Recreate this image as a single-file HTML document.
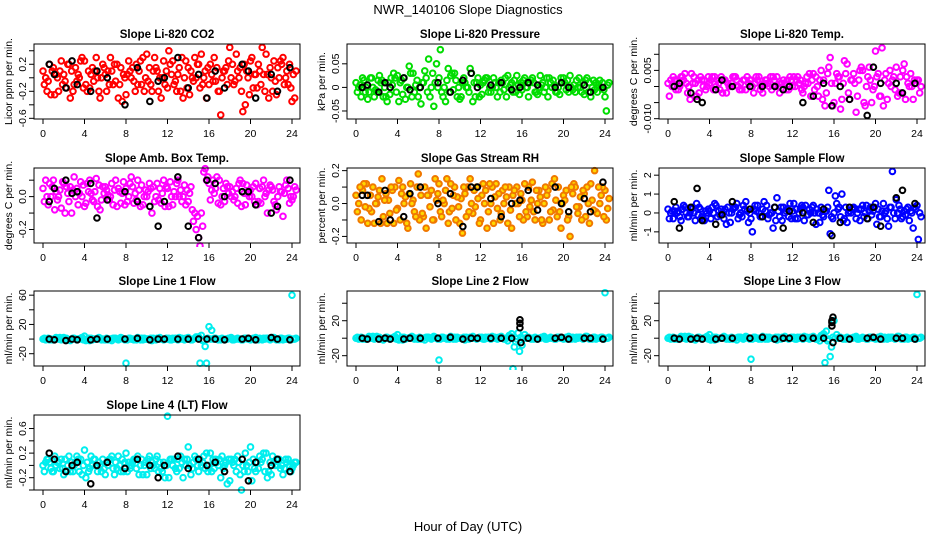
<!DOCTYPE html>
<html><head><meta charset="utf-8"><style>
body{margin:0;background:#fff}
svg{display:block;font-family:"Liberation Sans",sans-serif}
</style></head><body>
<svg id="c" width="936" height="540" xmlns="http://www.w3.org/2000/svg">
<text x="468" y="14" text-anchor="middle" font-size="13">NWR_140106  Slope Diagnostics</text>
<text x="468" y="531" text-anchor="middle" font-size="13">Hour of Day (UTC)</text>
</svg>
<script>
const hoursA=[0,0.5,1,1.5,2,2.5,3,3.5,4,4.5,5,5.5,6,6.5,7,7.5,8,8.5,9,9.5,10,10.5,11,11.5,12,12.5,13,13.5,14,14.5,15,15.5,16,16.5,17,17.5,18,18.5,19,19.5,20,20.5,21,21.5,22,22.5,23,23.5,24];
const offsetB=0.13, offsetC=0.26, offsetD=0.39;
const blackHours=[0.6,1.1,2.2,2.8,3.3,5.2,4.6,6.2,7.9,9.1,10.3,11.1,13.0,11.7,14.0,15.0,15.8,16.6,17.5,19.2,19.8,20.5,22.0,22.6,23.8];
const xTicks=[0,4,8,12,16,20,24];

const co2A=[0.1,-0.05,0.15,-0.2,0.05,0.2,-0.1,0.0,0.25,-0.15,0.1,-0.3,0.05,0.3,-0.05,0.15,-0.25,0.0,0.2,-0.1,0.35,-0.2,0.1,0.0,-0.15,0.25,0.05,-0.3,0.15,-0.05,0.2,0.0,-0.1,0.3,-0.2,0.1,0.45,-0.05,0.15,-0.4,0.25,0.05,-0.1,0.35,0.0,-0.25,0.2,0.1,-0.35];
const co2B=[-0.1,0.2,-0.25,0.1,-0.05,-0.3,0.15,0.25,-0.1,0.05,0.3,0.0,-0.2,0.1,0.2,-0.35,0.05,0.15,-0.1,0.3,-0.05,0.1,-0.2,0.25,0.4,-0.1,0.15,0.0,-0.25,0.3,-0.15,0.1,0.2,-0.05,-0.55,0.15,0.0,0.35,-0.2,0.1,0.3,-0.15,0.45,0.05,-0.2,0.15,0.3,-0.1,0.05];
const co2C=[0.0,-0.25,0.05,0.25,-0.15,0.1,-0.05,0.3,-0.2,0.15,0.0,0.2,0.1,-0.1,-0.3,0.05,0.25,-0.05,0.1,-0.2,0.15,0.3,0.0,-0.1,0.2,-0.05,-0.2,0.25,0.1,0.0,0.35,-0.3,0.05,0.15,0.0,-0.1,0.2,0.1,-0.5,0.0,-0.15,0.2,0.05,-0.3,0.25,0.0,-0.1,0.2,-0.3];
const co2D=[-0.2,0.1,0.0,-0.1,0.2,-0.2,0.05,-0.15,0.1,-0.05,-0.2,0.15,-0.1,0.2,-0.1,0.0,0.1,-0.2,0.25,0.0,-0.1,0.15,-0.3,0.1,0.05,-0.2,0.3,-0.15,0.0,0.2,-0.1,0.15,-0.05,-0.2,0.1,0.25,-0.1,0.0,0.2,-0.25,0.05,0.1,-0.2,0.15,-0.05,0.25,0.0,-0.15,0.1];
const co2K=[0.2,0.05,-0.15,0.25,-0.1,0.1,-0.2,0.0,-0.4,0.15,-0.35,-0.05,0.3,0.0,-0.15,0.05,-0.3,0.1,-0.15,0.2,0.1,-0.3,0.05,-0.2,0.15];

const presA=[0.01,-0.02,0.0,0.02,-0.01,0.015,-0.03,0.005,0.025,-0.015,0.0,0.03,-0.02,0.01,0.06,-0.04,0.02,0.0,-0.01,0.03,-0.025,0.01,0.04,-0.02,0.005,0.02,-0.01,0.0,0.015,-0.02,0.01,0.025,-0.005,0.0,0.02,-0.015,0.01,-0.02,0.015,0.0,0.02,-0.01,0.005,0.02,-0.015,0.01,-0.005,0.015,-0.02];
const presB=[-0.01,0.02,-0.025,0.0,0.015,-0.02,0.01,0.03,-0.03,0.02,0.045,-0.01,0.0,0.035,-0.02,0.01,0.08,-0.03,0.025,0.015,-0.02,0.0,0.03,0.01,-0.015,0.02,0.0,-0.02,0.01,0.025,-0.01,0.005,0.015,-0.02,0.01,0.0,-0.01,0.02,0.005,-0.015,0.01,0.025,-0.01,0.0,0.015,-0.02,0.01,0.0,-0.05];
const presC=[0.0,0.015,-0.01,-0.02,0.025,0.0,-0.015,0.02,0.01,-0.025,0.03,0.005,-0.035,0.02,0.0,0.05,-0.01,0.015,0.03,-0.02,0.01,0.0,-0.03,0.02,0.01,-0.01,0.02,0.01,-0.005,0.0,0.015,-0.015,0.02,0.01,-0.01,0.025,0.0,0.01,-0.01,0.02,-0.005,0.0,0.015,-0.01,0.02,0.0,-0.01,0.01,0.005];
const presD=[0.005,-0.01,0.02,-0.005,0.01,-0.02,0.02,-0.01,0.015,0.0,-0.02,0.015,0.01,-0.01,0.03,0.0,-0.02,0.04,-0.005,0.0,0.02,-0.01,0.01,-0.02,0.015,0.0,0.01,-0.01,0.02,0.005,-0.01,0.01,0.0,0.015,-0.01,0.005,0.02,0.0,-0.01,0.01,0.015,-0.005,0.0,0.01,-0.01,0.015,0.005,-0.005,0.01];
const presK=[0.0,0.005,-0.01,0.01,0.0,-0.005,0.02,0.0,0.01,-0.01,0.015,0.03,0.005,0.0,0.01,-0.005,0.0,0.01,0.005,0.0,0.01,0.0,0.005,-0.01,0.0];

const tempA=[0.001,0.003,-0.001,0.002,0.0,0.003,-0.002,0.002,0.001,0.003,-0.001,0.002,0.0,0.003,0.001,-0.001,0.002,0.003,0.0,0.002,-0.001,0.003,0.001,0.002,0.0,0.003,-0.002,0.001,0.004,-0.003,0.002,0.006,-0.005,0.003,0.008,-0.004,0.001,0.005,-0.006,0.002,0.011,-0.003,0.004,0.0,0.006,-0.002,0.003,0.0,0.002];
const tempB=[-0.003,0.002,0.0,0.004,-0.004,0.001,0.003,-0.001,0.002,0.0,0.003,-0.002,0.001,0.002,-0.001,0.003,0.0,0.002,-0.002,0.001,0.003,0.0,0.002,-0.001,0.003,0.001,0.0,0.004,-0.001,0.002,-0.006,0.009,0.001,-0.007,0.004,0.002,-0.008,0.006,0.0,-0.005,0.003,0.012,-0.004,0.002,-0.003,0.005,0.001,-0.004,0.002];
const tempC=[0.002,-0.001,0.003,0.001,0.004,-0.003,0.002,0.0,0.003,0.002,-0.002,0.001,0.003,0.0,0.002,0.001,-0.002,0.003,0.001,0.0,0.002,-0.002,0.001,0.003,0.0,0.002,0.001,-0.003,0.003,0.005,-0.002,0.001,0.004,-0.004,0.007,0.002,-0.003,0.005,0.003,-0.001,0.004,-0.006,0.001,0.003,-0.002,0.007,0.0,0.002,-0.002];
const tempD=[0.0,0.002,0.003,-0.002,0.001,0.002,0.0,0.003,-0.001,0.001,0.002,0.0,0.003,-0.001,0.002,0.002,0.001,-0.001,0.002,0.003,0.0,0.001,-0.001,0.002,0.002,-0.001,0.003,0.002,0.0,-0.004,0.004,-0.006,0.003,0.001,-0.002,0.004,0.002,-0.005,0.006,0.0,-0.003,0.002,0.005,-0.001,0.003,-0.004,0.004,0.001,0.0];
const tempK=[0.0,0.001,-0.002,-0.004,-0.005,0.002,-0.001,0.0,0.0,0.0,0.0,-0.001,-0.005,0.0,-0.003,0.001,-0.006,0.0,-0.004,-0.009,0.006,0.001,0.001,-0.002,0.001];

const ambA=[0.05,-0.05,0.1,0.0,0.08,-0.03,0.12,0.02,-0.06,0.1,0.03,-0.08,0.06,0.0,0.1,-0.04,0.05,0.12,-0.02,0.07,0.0,-0.1,0.08,0.02,0.05,-0.05,0.1,0.0,-0.03,-0.15,-0.25,0.15,0.08,0.02,0.1,-0.03,0.06,0.0,0.1,-0.05,0.04,0.08,-0.04,0.02,0.06,-0.08,0.03,0.1,-0.02];
const ambB=[-0.03,0.08,-0.08,0.04,-0.1,0.06,0.0,0.09,-0.04,0.02,0.11,-0.02,0.04,0.08,-0.06,0.02,-0.03,0.06,0.1,-0.05,0.03,0.06,-0.02,0.1,-0.06,0.03,0.0,0.07,0.02,-0.1,-0.3,0.17,-0.02,0.05,-0.05,0.08,0.0,0.05,-0.06,0.07,0.0,-0.05,0.06,-0.1,0.04,0.0,-0.12,0.05,0.0];
const ambC=[0.1,0.0,0.03,-0.07,0.06,-0.1,0.05,0.0,0.08,-0.02,-0.06,0.06,0.01,-0.05,0.05,0.09,0.0,-0.04,0.04,0.0,0.08,-0.03,0.05,-0.06,0.09,0.0,0.04,-0.05,0.06,-0.2,-0.1,0.1,0.04,0.12,0.0,0.06,0.03,-0.04,0.08,0.02,0.06,-0.03,0.1,0.04,-0.03,0.06,0.02,-0.04,0.06];
const ambD=[0.0,0.06,-0.02,0.09,0.02,0.04,-0.05,0.07,0.03,-0.03,0.07,0.02,-0.02,0.04,0.03,-0.05,0.08,0.02,-0.06,0.04,0.05,0.0,-0.04,0.06,0.0,0.08,-0.03,0.04,-0.08,-0.12,-0.18,0.12,0.1,-0.04,0.05,0.02,-0.02,0.08,0.02,0.0,-0.03,0.05,0.0,0.07,-0.05,0.03,0.07,0.0,0.04];
const ambK=[-0.03,0.05,0.1,0.02,0.03,-0.13,0.08,-0.02,0.03,-0.03,-0.06,-0.18,0.12,-0.03,-0.18,-0.25,0.1,0.08,0.0,0.03,0.03,-0.05,-0.1,-0.06,0.1];

const rhA=[0.05,-0.1,0.12,-0.05,0.0,0.15,-0.12,0.08,-0.03,0.1,-0.15,0.02,0.18,-0.08,0.05,-0.1,0.12,0.0,-0.05,0.1,-0.12,0.06,0.15,-0.02,-0.1,0.08,0.0,0.12,-0.06,0.04,-0.15,0.1,0.02,-0.08,0.13,0.0,-0.12,0.08,-0.04,0.1,0.05,-0.08,0.12,-0.02,0.06,-0.12,0.2,0.0,0.08];
const rhB=[-0.05,0.08,-0.12,0.1,0.04,-0.08,0.02,-0.12,0.14,0.0,0.06,-0.05,-0.1,0.1,-0.02,0.15,-0.05,0.08,0.12,-0.1,0.03,-0.08,0.0,0.1,0.05,-0.15,0.1,-0.03,0.08,-0.12,0.05,0.0,-0.1,0.1,-0.05,0.08,0.0,-0.1,0.15,-0.05,0.02,-0.2,0.1,0.04,-0.08,0.12,-0.05,0.05,-0.1];
const rhC=[0.0,0.12,-0.03,-0.12,0.08,0.02,-0.06,0.1,-0.1,0.04,0.12,-0.08,0.05,-0.15,0.08,0.02,-0.08,0.15,-0.03,0.04,-0.18,0.1,-0.06,0.03,0.12,-0.05,-0.12,0.06,0.0,0.1,0.08,-0.08,0.12,-0.02,-0.1,0.04,0.1,-0.05,0.02,-0.15,0.08,0.1,-0.02,-0.1,0.1,0.02,-0.06,0.1,-0.03];
const rhD=[0.1,-0.02,0.05,0.0,-0.12,0.06,0.1,-0.04,0.06,-0.12,0.0,0.1,-0.06,0.05,-0.1,0.06,0.02,-0.12,0.05,-0.02,0.1,-0.05,0.08,-0.12,0.0,0.12,0.04,-0.1,0.1,-0.04,0.0,0.06,-0.05,0.02,0.08,-0.1,0.05,0.12,-0.08,0.0,-0.1,0.06,-0.06,0.08,0.0,-0.04,0.1,-0.08,0.03];
const rhK=[0.05,0.05,-0.11,0.08,-0.1,0.06,-0.08,0.1,0.0,0.06,-0.14,0.1,0.03,0.1,-0.08,0.0,0.02,0.08,-0.04,0.1,0.0,-0.05,0.03,-0.05,0.13];

const sfA=[0.2,-0.3,0.1,0.4,-0.2,0.0,0.3,-0.4,0.1,0.5,-0.1,0.2,-0.5,0.3,0.0,0.6,-0.3,0.1,-0.2,0.4,0.0,0.8,-0.4,0.2,0.1,-0.3,0.3,-0.1,0.4,0.0,-0.2,1.2,0.0,0.3,-0.3,0.1,0.2,-0.4,0.0,0.3,0.5,-0.2,0.1,0.3,0.7,-0.3,0.2,0.0,0.4];
const sfB=[-0.3,0.1,-0.2,0.3,0.0,-0.4,0.2,0.1,-0.3,0.4,0.2,-0.6,0.0,0.5,-0.2,0.1,-1.0,0.4,0.2,-0.3,-0.8,0.1,0.3,-0.2,0.5,0.0,-0.4,0.2,0.0,-0.5,0.1,-1.1,0.9,-0.2,0.3,0.0,-0.3,0.2,0.4,-0.1,-0.6,0.1,-0.3,2.2,0.0,-0.2,0.3,-0.8,-1.4];
const sfC=[0.0,0.3,-0.4,0.0,0.2,0.5,-0.2,0.0,0.3,-0.2,0.0,0.3,0.2,-0.3,0.4,-0.5,0.2,0.0,0.6,-0.1,0.3,-0.2,0.0,0.5,-0.3,0.2,0.4,0.0,-0.6,0.3,0.1,-0.2,0.5,1.0,-0.5,0.2,0.0,0.4,-0.3,0.1,0.2,0.5,-0.7,0.0,0.4,0.1,-0.4,0.3,0.0];
const sfD=[0.1,0.0,0.2,-0.2,0.3,-0.1,-0.3,0.2,0.0,0.1,-0.3,0.0,0.3,-0.1,0.2,0.0,0.4,-0.2,0.1,0.0,-0.4,0.3,0.1,-0.3,0.2,0.4,-0.1,0.3,0.2,-0.1,0.3,-0.3,0.2,-0.4,0.0,0.3,0.2,-0.2,0.1,0.3,-0.2,0.0,0.3,-0.3,0.2,-0.1,0.1,0.2,-0.2];
const sfK=[0.6,-0.8,0.3,1.3,-0.4,-0.1,-0.6,0.6,0.2,-0.2,0.3,-0.8,0.0,0.1,-0.5,0.2,-1.2,-0.5,0.3,-0.3,0.3,-0.7,0.8,1.2,0.5];

const l1A=[0,1,-1,0,2,-1,1,0,4,-2,0,1,-1,0,1,2,-33,0,-1,1,0,-2,1,0,0,1,-1,0,2,0,3,-1,17,1,0,-1,1,0,0,1,-1,2,0,1,0,-1,1,0,60];
const l1B=[1,-1,0,2,0,-2,0,1,-2,1,0,-1,1,-2,0,1,-1,0,2,-1,0,1,0,-1,1,0,2,-1,0,1,-33,-10,0,1,-1,0,2,0,-1,1,0,0,-1,1,2,0,-1,1,0];
const l1C=[-1,0,2,-1,1,0,-1,2,0,-1,1,0,-1,1,-1,0,1,-1,0,1,-1,0,2,0,-1,1,0,1,-1,3,5,-33,12,0,1,0,-1,1,-1,0,1,-1,1,0,2,-1,0,1,0];
const l1D=[0,-1,1,0,-1,1,0,-1,1,0,2,-1,0,1,0,-1,1,0,-1,0,1,-1,0,1,-1,0,1,0,-1,2,-2,1,0,-1,0,1,-1,0,1,0,-1,1,0,-1,0,1,0,-1,1];
const l1K=[0,-1,-2,0,-1,0,-1,0,0,1,-1,0,0,0,0,0,0,0,-1,0,1,-1,2,0,-1];

const l2A=[0,1,-1,0,2,-1,1,0,4,-2,0,1,-1,0,1,2,-25,0,-1,1,0,-2,1,0,0,1,-1,0,2,0,5,-1,-8,1,0,-1,1,0,0,1,-1,2,0,1,0,-1,1,0,52];
const l2B=[1,-1,0,2,0,-2,0,1,-2,1,0,-1,1,-2,0,1,-1,0,2,-1,0,1,0,-1,1,0,2,-1,0,-3,-35,6,0,1,-1,0,2,0,-1,1,0,0,-1,1,2,0,-1,1,0];
const l2C=[-1,0,2,-1,1,0,-1,2,0,-1,1,0,-1,1,-1,0,1,-1,0,1,-1,0,2,0,-1,1,0,1,-1,3,-10,-15,4,0,1,0,-1,1,-1,0,1,-1,1,0,2,-1,0,1,0];
const l2D=[0,-1,1,0,-1,1,0,-1,1,0,2,-1,0,1,0,-1,1,0,-1,0,1,-1,0,1,-1,0,1,0,-1,2,-4,1,0,-1,0,1,-1,0,1,0,-1,1,0,-1,0,1,0,-1,1];
const l2K=[0,-1,-1,0,-1,0,-1,0,0,1,-1,0,0,0,0,0,12,0,-1,0,1,-1,0,0,-1];
const l2ExtraHours=[15.8,15.8,15.9];
const l2ExtraK=[17,21,-5];

const l3A=[0,1,-1,0,2,-1,1,0,4,-2,0,1,-1,0,1,2,-24,0,-1,1,0,-2,1,0,0,1,-1,0,2,0,5,-1,20,1,0,-1,1,0,0,1,-1,2,0,1,0,-1,1,0,50];
const l3B=[1,-1,0,2,0,-2,0,1,-2,1,0,-1,1,-2,0,1,-1,0,2,-1,0,1,0,-1,1,0,2,-1,0,-3,-28,-21,0,1,-1,0,2,0,-1,1,0,0,-1,1,2,0,-1,1,0];
const l3C=[-1,0,2,-1,1,0,-1,2,0,-1,1,0,-1,1,-1,0,1,-1,0,1,-1,0,2,0,-1,1,0,1,-1,3,8,-10,4,0,1,0,-1,1,-1,0,1,-1,1,0,2,-1,0,1,0];
const l3D=[0,-1,1,0,-1,1,0,-1,1,0,2,-1,0,1,0,-1,1,0,-1,0,1,-1,0,1,-1,0,1,0,-1,2,-3,1,0,-1,0,1,-1,0,1,0,-1,1,0,-1,0,1,0,-1,1];
const l3K=[0,-1,-1,0,-1,0,-1,0,0,1,-1,0,0,0,0,0,14,0,-1,0,1,-1,0,0,-1];
const l3ExtraHours=[15.8,15.8,15.9,15.9];
const l3ExtraK=[18,20,24,-5];

const l4A=[0.0,0.1,-0.1,0.05,-0.15,0.15,0.0,-0.1,0.25,-0.05,0.1,0.0,-0.15,0.1,0.05,-0.1,0.2,0.0,-0.05,0.1,-0.15,0.05,0.15,-0.1,0.8,0.0,0.1,-0.2,0.3,0.05,-0.1,0.15,0.0,-0.05,0.1,0.0,-0.25,0.1,-0.15,0.2,0.3,-0.1,0.05,0.2,-0.15,0.1,0.0,0.05,-0.05];
const l4B=[-0.1,0.05,0.15,-0.05,0.1,-0.1,0.05,0.1,-0.2,0.15,0.0,-0.1,0.05,0.15,-0.05,0.1,-0.1,0.05,0.15,-0.15,0.1,0.0,-0.1,0.05,-0.2,0.1,-0.05,0.1,0.0,0.15,0.1,-0.05,0.2,0.1,-0.2,0.05,0.1,-0.1,-0.4,0.0,-0.25,0.05,0.1,-0.2,0.15,0.0,-0.15,0.1,0.0];
const l4C=[0.05,-0.05,0.0,0.1,-0.1,0.05,0.15,-0.15,0.05,0.0,-0.1,0.1,0.0,-0.05,0.15,-0.1,0.05,0.1,-0.15,0.0,0.15,-0.05,0.05,-0.2,0.1,-0.05,0.15,0.0,-0.15,0.1,0.0,0.2,-0.1,0.05,0.15,-0.3,0.05,0.15,0.0,-0.1,0.1,-0.05,0.2,-0.1,0.05,0.1,-0.05,0.0,0.05];
const l4D=[0.1,-0.1,0.05,-0.05,0.0,-0.1,0.1,0.0,-0.1,0.1,0.05,-0.05,0.1,-0.15,0.0,0.05,-0.05,0.1,0.0,0.05,-0.05,0.1,-0.05,0.0,0.1,-0.1,0.05,0.1,-0.05,0.0,0.05,-0.1,0.1,0.0,-0.05,0.1,0.0,0.05,-0.1,0.05,-0.05,0.15,-0.1,0.05,0.0,-0.05,0.1,-0.1,0.05];
const l4K=[0.2,0.1,-0.1,0.0,0.05,0.0,-0.3,0.05,-0.05,0.1,0.0,-0.2,0.15,0.0,-0.05,0.1,0.0,0.05,-0.1,0.1,-0.25,0.05,0.0,0.1,-0.1];

const panels=[
 {name:'co2',title:'Slope Li-820 CO2',ylab:'Licor ppm per min.',col:0,row:0,dom:[-0.61,0.5],ticks:[-0.6,-0.4,-0.2,0,0.2,0.4],labs:[-0.6,-0.2,0.2],color:'#ff0000',fill:'none',A:co2A,B:co2B,C:co2C,D:co2D,K:co2K},
 {name:'pressure',title:'Slope Li-820 Pressure',ylab:'kPa per min.',col:1,row:0,dom:[-0.067,0.092],ticks:[-0.05,0,0.05],labs:[-0.05,0,0.05],color:'#00dd00',fill:'none',A:presA,B:presB,C:presC,D:presD,K:presK},
 {name:'licor-temp',title:'Slope Li-820 Temp.',ylab:'degrees C per min.',col:2,row:0,dom:[-0.0101,0.0132],ticks:[-0.01,-0.005,0,0.005,0.01],labs:[-0.01,0.005],color:'#ff00ff',fill:'none',A:tempA,B:tempB,C:tempC,D:tempD,K:tempK,fmt:3},
 {name:'amb-box-temp',title:'Slope Amb. Box Temp.',ylab:'degrees C per min.',col:0,row:1,dom:[-0.282,0.174],ticks:[-0.2,-0.1,0,0.1],labs:[-0.2,0],color:'#ff00ff',fill:'none',A:ambA,B:ambB,C:ambC,D:ambD,K:ambK,fmt:1},
 {name:'gas-stream-rh',title:'Slope Gas Stream RH',ylab:'percent per min.',col:1,row:1,dom:[-0.24,0.216],ticks:[-0.2,-0.1,0,0.1,0.2],labs:[-0.2,0,0.2],color:'#f07800',fill:'#ffd800',A:rhA,B:rhB,C:rhC,D:rhD,K:rhK,fmt:1},
 {name:'sample-flow',title:'Slope Sample Flow',ylab:'ml/min per min.',col:2,row:1,dom:[-1.59,2.38],ticks:[-1,0,1,2],labs:[-1,0,1,2],color:'#0000ff',fill:'none',A:sfA,B:sfB,C:sfC,D:sfD,K:sfK},
 {name:'line1-flow',title:'Slope Line 1 Flow',ylab:'ml/min per min.',col:0,row:2,dom:[-36.8,65.7],ticks:[-20,0,20,40,60],labs:[-20,20,60],color:'#00eeee',fill:'none',A:l1A,B:l1B,C:l1C,D:l1D,K:l1K},
 {name:'line2-flow',title:'Slope Line 2 Flow',ylab:'ml/min per min.',col:1,row:2,dom:[-31.8,54],ticks:[-20,0,20,40],labs:[-20,20],color:'#00eeee',fill:'none',A:l2A,B:l2B,C:l2C,D:l2D,K:l2K,EH:l2ExtraHours,EK:l2ExtraK},
 {name:'line3-flow',title:'Slope Line 3 Flow',ylab:'ml/min per min.',col:2,row:2,dom:[-31.8,54],ticks:[-20,0,20,40],labs:[-20,20],color:'#00eeee',fill:'none',A:l3A,B:l3B,C:l3C,D:l3D,K:l3K,EH:l3ExtraHours,EK:l3ExtraK},
 {name:'line4-flow',title:'Slope Line 4 (LT) Flow',ylab:'ml/min per min.',col:0,row:3,dom:[-0.4,0.82],ticks:[-0.4,-0.2,0,0.2,0.4,0.6],labs:[-0.2,0.2,0.6],color:'#00eeee',fill:'none',A:l4A,B:l4B,C:l4C,D:l4D,K:l4K,fmt:1}
];

const NS='http://www.w3.org/2000/svg';
const svg=document.getElementById('c');
const colLeft=[34,347,659], rowTop=[44,168,291,415];
const W=266,H=75;
function mk(tag,attrs,parent){const e=document.createElementNS(NS,tag);for(const k in attrs)e.setAttribute(k,attrs[k]);(parent||svg).appendChild(e);return e;}
function fmtNum(v,d){if(d===undefined){return String(v);}return v.toFixed(d);}

panels.forEach(p=>{
  const L=colLeft[p.col],T=rowTop[p.row];
  const g=mk('g',{});
  
  
  const xs=h=>L+9+h*(249/24);
  const ys=v=>T+H-(v-p.dom[0])/(p.dom[1]-p.dom[0])*H;
  const t=mk('text',{x:L+W/2,y:T-6,'text-anchor':'middle','font-size':'11.5','font-weight':'bold'},g);
  t.textContent=p.title;
  
  
  const yl=mk('text',{transform:`translate(${L-22},${T+H/2}) rotate(-90)`,'text-anchor':'middle','font-size':'10.5'},g);
  yl.textContent=p.ylab;
  
  
  const cid='clip'+p.name;
  const cp=mk('clipPath',{id:cid},g);mk('rect',{x:L-4,y:T-4,width:W+8,height:H+8},cp);
  const pts=mk('g',{'clip-path':`url(#${cid})`},g);
  
  
  const draw=(hrs,vals,off,color,fill,sw)=>{vals.forEach((v,i)=>{
    const c=mk('circle',{cx:xs(hrs[i]+off),cy:ys(v),r:2.8,fill:fill,stroke:color,'stroke-width':sw},pts);
    
    
  });};
  draw(hoursA,p.A,0,p.color,p.fill,2);
  draw(hoursA,p.B,offsetB,p.color,p.fill,2);
  draw(hoursA,p.C,offsetC,p.color,p.fill,2);
  draw(hoursA,p.D,offsetD,p.color,p.fill,2);
  draw(blackHours,p.K,0,'#000','none',2);
  if(p.EH)draw(p.EH,p.EK,0,'#000','none',2);
  const b=mk('rect',{x:L,y:T,width:W,height:H,fill:'none',stroke:'#000','stroke-width':1},g);
  
  
  xTicks.forEach(h=>{
    mk('line',{x1:xs(h),x2:xs(h),y1:T+H,y2:T+H+5,stroke:'#000'},g);
    const tx=mk('text',{x:xs(h),y:T+H+18,'text-anchor':'middle','font-size':'10.5'},g);
    tx.textContent=h;
    
    
  });
  p.ticks.forEach(v=>{
    const y=ys(v);
    mk('line',{x1:L-5,x2:L,y1:y,y2:y,stroke:'#000'},g);
  });
  p.labs.forEach(v=>{
    const y=ys(v);
    const ty=mk('text',{transform:`translate(${L-8},${y}) rotate(-90)`,'text-anchor':'middle','font-size':'10.5'},g);
    ty.textContent=fmtNum(v,p.fmt);
    
    
  });
});
</script>
</body></html>
